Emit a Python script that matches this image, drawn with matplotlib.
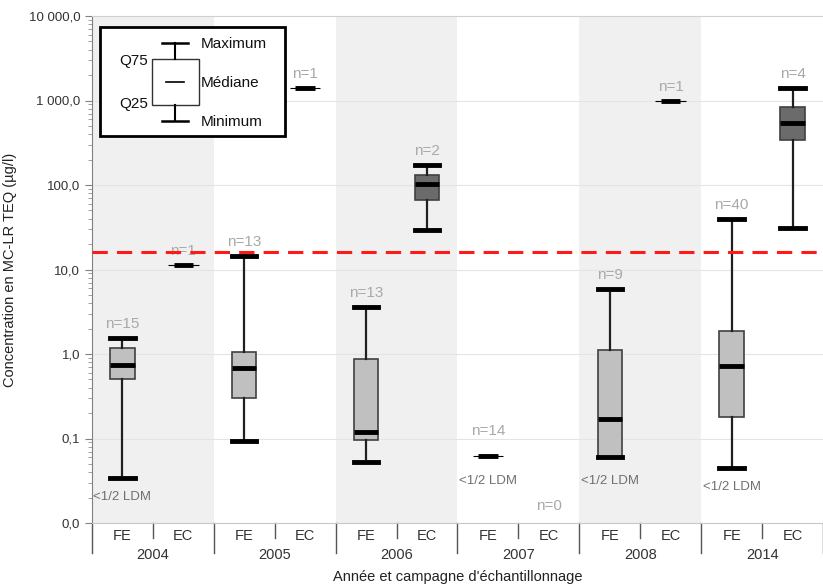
import matplotlib
matplotlib.use("Agg")
import matplotlib.pyplot as plt
import matplotlib.transforms as mtransforms
from matplotlib.patches import Rectangle
import numpy as np

plt.rcParams['font.family'] = ['Liberation Sans', 'DejaVu Sans']

# donnees (ug/l)
annees = ['2004', '2005', '2006', '2007', '2008', '2014']
campagnes = ['FE', 'EC'] * 6
n_ech = [15, 1, 13, 1, 13, 2, 14, 0, 9, 1, 40, 4]
q_min = [0.034, 11.2, 0.093, 1400, 0.052, 29, 0.062, None, 0.060, 1000, 0.045, 31]
q25 = [0.50, 11.2, 0.30, 1400, 0.096, 66, 0.062, None, 0.060, 1000, 0.18, 340]
mediane = [0.74, 11.2, 0.68, 1400, 0.12, 103, 0.062, None, 0.17, 1000, 0.72, 540]
q75 = [1.18, 11.2, 1.05, 1400, 0.87, 130, 0.062, None, 1.12, 1000, 1.87, 840]
q_max = [1.55, 11.2, 14.4, 1400, 3.6, 173, 0.062, None, 5.9, 1000, 39.6, 1400]
sous_ldm = [True, False, False, False, False, False, True, False, True, False, True, False]
seuil = 16.0
yticks = [0.01, 0.1, 1, 10, 100, 1000, 10000]
ytick_labels = ['0,0', '0,1', '1,0', '10,0', '100,0', '1 000,0', '10 000,0']

W, H = 823, 586
fig = plt.figure(figsize=(W / 100, H / 100), dpi=100)
ax = fig.add_axes([92 / W, 1 - 523 / H, 731 / W, 507 / H])
ax.set_yscale('log')
ax.set_ylim(0.01, 10000)
ax.set_xlim(-0.5, 11.5)

# bandes grises (2004, 2006, 2008)
for g in [0, 2, 4]:
    ax.axvspan(2 * g - 0.5, 2 * g + 1.5, color='#f0f0f0', zorder=0, lw=0)

for t in yticks[1:-1]:
    ax.axhline(t, color='#e4e4e4', lw=0.8, zorder=0.5)

gris_txt = '#a9a9a9'
for i in range(12):
    if q_min[i] is None:
        ax.text(i, 0.016, 'n=0', color=gris_txt, fontsize=11, ha='center', va='center')
        continue
    fc = '#c0c0c0' if campagnes[i] == 'FE' else '#6b6b6b'
    if q_max[i] == q_min[i]:
        ax.hlines(mediane[i], i - 0.25, i + 0.25, color='black', lw=0.8, zorder=3)
        ax.hlines(mediane[i], i - 0.16, i + 0.16, color='black', lw=3.5, zorder=3)
    else:
        st = [dict(med=mediane[i], q1=q25[i], q3=q75[i], whislo=q_min[i], whishi=q_max[i], fliers=[])]
        ax.bxp(st, positions=[i], widths=0.4, capwidths=0.4, patch_artist=True,
               boxprops=dict(facecolor=fc, edgecolor='#404040', lw=1.2),
               medianprops=dict(color='black', lw=3.5),
               whiskerprops=dict(color='#202020', lw=1.6),
               capprops=dict(color='black', lw=3.5), manage_ticks=False, zorder=3)
    dy = 18 if q_max[i] == q_min[i] and n_ech[i] > 1 else 10
    ax.annotate('n=%d' % n_ech[i], (i, q_max[i]), xytext=(0, dy), textcoords='offset points',
                ha='center', va='center', color=gris_txt, fontsize=11)
    if sous_ldm[i]:
        ax.text(i, min(0.031, q_min[i] * 0.6), '<1/2 LDM', ha='center', va='center',
                color='#707070', fontsize=9.5)

ax.axhline(seuil, color='#ff1a1a', lw=2.2, ls=(0, (5, 3)), zorder=4)

# axes
ax.set_yticks(yticks)
ax.set_yticklabels(ytick_labels, fontsize=9.5)
ax.tick_params(axis='y', which='major', length=5, color='#808080', labelcolor='#333333')
ax.tick_params(axis='y', which='minor', length=3, color='#909090')
ax.set_xticks(range(12))
ax.set_xticklabels(campagnes, fontsize=10.5, color='#333333')
ax.tick_params(axis='x', length=0, pad=4)
ax.spines['right'].set_visible(False)
ax.spines['top'].set_color('#d0d0d0')
ax.spines['bottom'].set_color('#c8c8c8')
ax.spines['left'].set_color('#808080')

tr = mtransforms.blended_transform_factory(ax.transData, ax.transAxes)
for k in range(13):
    bas = -0.06 if k % 2 == 0 else -0.03
    ax.plot([k - 0.5, k - 0.5], [0, bas], transform=tr, color='#555555', lw=1, clip_on=False)
for g, an in enumerate(annees):
    ax.text(2 * g + 0.5, -0.063, an, transform=tr, ha='center', va='center', fontsize=10.5, color='#333333')

ax.set_ylabel('Concentration en MC-LR TEQ (µg/l)', fontsize=10.5, color='#222222', labelpad=8)
fig.text((92 + 731 / 2) / W, 1 - 577 / H, "Année et campagne d'échantillonnage",
         ha='center', va='center', fontsize=10.5, color='#222222')

# legende dessinee a la main (coordonnees pixels -> axes)
def px(x, y):
    return ((x - 92) / 731, 1 - (y - 16) / 507)

x0, y0 = px(100, 136)
x1, y1 = px(285, 27)
ax.add_patch(Rectangle((x0, y0), x1 - x0, y1 - y0, transform=ax.transAxes, fill=True,
                       facecolor='white', edgecolor='black', lw=2, zorder=6))
bx0, by0 = px(152, 105)
bx1, by1 = px(199, 59)
ax.add_patch(Rectangle((bx0, by0), bx1 - bx0, by1 - by0, transform=ax.transAxes, fill=False,
                       edgecolor='#333333', lw=1, zorder=7))
xc = px(175, 0)[0]
for (ya, yb) in [(43, 59), (105, 121)]:
    ax.plot([xc, xc], [px(0, ya)[1], px(0, yb)[1]], transform=ax.transAxes, color='black', lw=1.5, zorder=7)
for yy, w in [(43, 13), (121, 13), (82, 9)]:
    ax.plot([px(175 - w, 0)[0], px(175 + w, 0)[0]], [px(0, yy)[1]] * 2, transform=ax.transAxes,
            color='black', lw=1.8 if yy != 82 else 1.2, zorder=7)
for lab, xx, yy, ha in [('Maximum', 201, 44, 'left'), ('Médiane', 201, 83, 'left'),
                        ('Minimum', 201, 122, 'left'), ('Q75', 148, 61, 'right'), ('Q25', 148, 104, 'right')]:
    p = px(xx, yy)
    ax.text(p[0], p[1], lab, transform=ax.transAxes, ha=ha, va='center', fontsize=11, color='#111111', zorder=8)

fig.savefig('out.png', dpi=100)
